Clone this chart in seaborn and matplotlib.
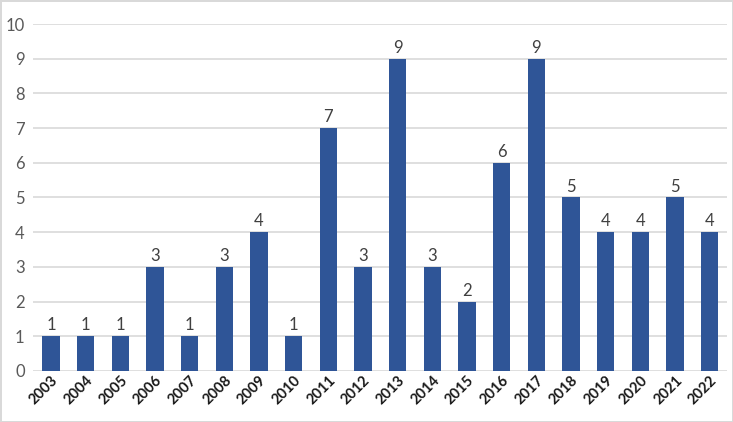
import matplotlib
matplotlib.use("Agg")
import matplotlib.pyplot as plt
import seaborn as sns
import pandas as pd

years = ["2003", "2004", "2005", "2006", "2007", "2008", "2009", "2010", "2011", "2012",
         "2013", "2014", "2015", "2016", "2017", "2018", "2019", "2020", "2021", "2022"]
counts = [1, 1, 1, 3, 1, 3, 4, 1, 7, 3, 9, 3, 2, 6, 9, 5, 4, 4, 5, 4]
yticks = [0, 1, 2, 3, 4, 5, 6, 7, 8, 9, 10]

df = pd.DataFrame({"year": years, "count": counts})

sns.set_theme(style="white")
plt.rcParams['font.family'] = ['Lato', 'DejaVu Sans']

fig = plt.figure(figsize=(7.33, 4.22), dpi=100)
fig.patch.set_edgecolor("#d9d9d9")
fig.patch.set_linewidth(2)
ax = fig.add_axes([0.045, 0.121, 0.947, 0.822])

sns.barplot(data=df, x="year", y="count", color="#2f5597", saturation=1, width=0.5,
            linewidth=0, ax=ax)

for i, v in enumerate(counts):
    ax.text(i, v + 0.08, str(v), ha="center", va="bottom", fontsize=12, color="#404040")

ax.set_ylim(0, 10)
ax.set_xlim(-0.52, 19.5)
ax.set_yticks(yticks)
ax.set_yticklabels([str(t) for t in yticks], fontsize=12, color="#595959")
ax.yaxis.grid(True, color="#d9d9d9", linewidth=1.2)
ax.set_axisbelow(True)
for s in ax.spines.values():
    s.set_visible(False)
ax.tick_params(axis="y", length=0, pad=6)
ax.tick_params(axis="x", length=0, pad=2)
for lbl in ax.get_xticklabels():
    lbl.set_rotation(45)
    lbl.set_ha("right")
    lbl.set_rotation_mode("anchor")
    lbl.set_fontweight("bold")
    lbl.set_fontsize(10.5)
    lbl.set_color("#1a1a1a")
ax.set_xlabel("")
ax.set_ylabel("")

fig.savefig("out.png", dpi=100, edgecolor=fig.get_edgecolor())
